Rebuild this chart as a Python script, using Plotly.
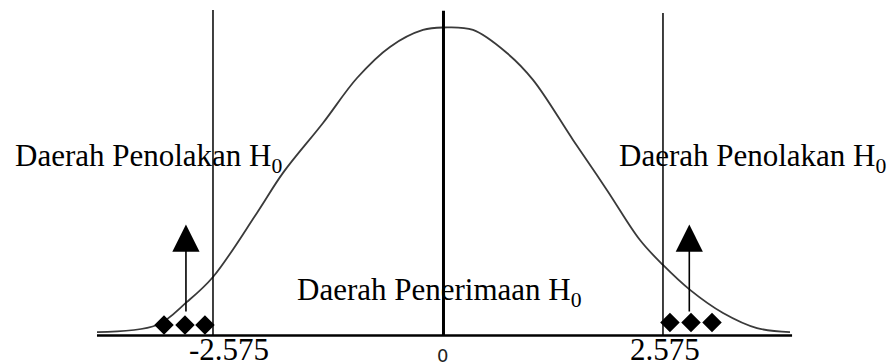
import plotly.graph_objects as go

# bell curve: z position and height relative to the peak
curve_z = [-3.871, -3.201, -2.866, -2.575, -2.084, -1.793, -1.346, -0.966, -0.598, -0.229, 0.0,
           0.330, 0.709, 1.0, 1.447, 1.827, 2.195, 2.452, 2.754, 3.123, 3.502, 3.871]
curve_h = [0.011, 0.034, 0.109, 0.190, 0.398, 0.528, 0.690, 0.836, 0.937, 0.992, 1.0,
           0.992, 0.917, 0.830, 0.635, 0.472, 0.310, 0.229, 0.148, 0.073, 0.024, 0.011]

axis_z = [-3.871, 3.894]
crit_z = [-2.575, 2.452]          # critical lines, where they are drawn
crit_top = [1.057, 1.047]
center_top = 1.054

dots_left_z = [-3.122, -2.888, -2.665]
dots_left_h = [0.034, 0.034, 0.034]
dots_right_z = [2.530, 2.765, 3.0]
dots_right_h = [0.042, 0.042, 0.042]

arrow_z = [-2.877, 2.746]
arrow_tail = [0.073, 0.073]
arrow_tip = [0.360, 0.360]

tick_z = [-2.397, -0.01, 2.475]
tick_text = ["-2.575", "0", "2.575"]

region_text = ["Daerah Penolakan H<sub>0</sub>", "Daerah Penerimaan H<sub>0</sub>", "Daerah Penolakan H<sub>0</sub>"]
region_z = [-4.809, -1.659, 1.938]
region_h = [0.576, 0.1415, 0.576]

SERIF = "Liberation Serif, Times New Roman, serif"

fig = go.Figure()
fig.add_trace(go.Scatter(x=axis_z, y=[0, 0], mode="lines", line=dict(color="black", width=2.6)))
fig.add_trace(go.Scatter(x=curve_z, y=curve_h, mode="lines",
                         line=dict(color="#3a3a3a", width=1.8, shape="spline", smoothing=1.0)))
for z, top in zip(crit_z, crit_top):
    fig.add_trace(go.Scatter(x=[z, z], y=[0, top], mode="lines", line=dict(color="black", width=1.5)))
fig.add_trace(go.Scatter(x=[0, 0], y=[0, center_top], mode="lines", line=dict(color="black", width=3)))
fig.add_trace(go.Scatter(x=dots_left_z + dots_right_z, y=dots_left_h + dots_right_h, mode="markers",
                         marker=dict(symbol="diamond", size=15, color="black")))

for z, tail, tip in zip(arrow_z, arrow_tail, arrow_tip):
    fig.add_annotation(x=z, y=tip, ax=z, ay=tail, xref="x", yref="y", axref="x", ayref="y",
                       text="", showarrow=True, arrowhead=2, arrowsize=3.4, arrowwidth=1.6,
                       arrowcolor="black")

for t, z in zip(tick_text, tick_z):
    if t == "0":
        font = dict(family="DejaVu Sans, Arial, sans-serif", size=18, color="#222222")
        h = -0.064
    else:
        font = dict(family=SERIF, size=31, color="black")
        h = -0.044
    fig.add_annotation(x=z, y=h, xref="x", yref="y", text=t, showarrow=False,
                       xanchor="center", yanchor="middle", font=font)

for t, z, h in zip(region_text, region_z, region_h):
    fig.add_annotation(x=z, y=h, xref="x", yref="y", text=t, showarrow=False,
                       xanchor="left", yanchor="middle", font=dict(family=SERIF, size=31, color="black"))

# the page body keeps its 8px margin, so the figure is 8px smaller than the window
fig.update_layout(width=887, height=356, autosize=False, margin=dict(l=0, r=0, t=0, b=0),
                  paper_bgcolor="white", plot_bgcolor="white", showlegend=False,
                  xaxis=dict(range=[-4.865, 5.044], visible=False),
                  yaxis=dict(range=[-0.0925, 1.0633], visible=False))
fig.write_html("out.html")
